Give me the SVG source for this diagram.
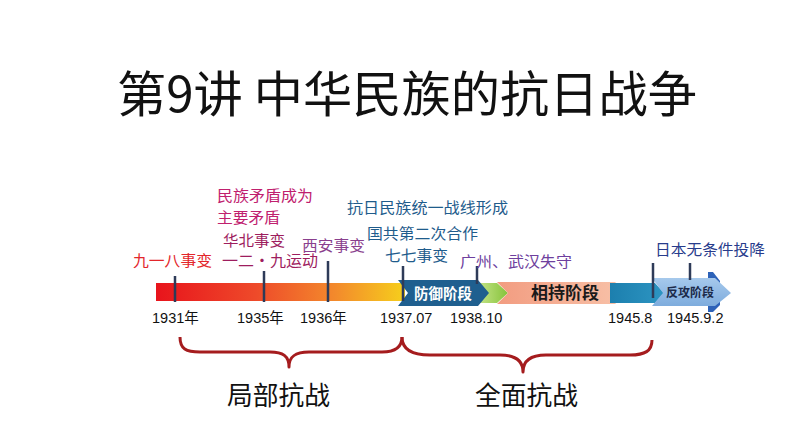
<svg xmlns="http://www.w3.org/2000/svg" width="794" height="447" viewBox="0 0 794 447">
<defs>
<style>
.cjk{font-family:"Noto Sans CJK SC","Noto Sans",sans-serif}
.ev{font-family:"Noto Sans CJK SC","Noto Sans",sans-serif;font-size:15px}
.yr{font-family:"Liberation Sans","Noto Sans CJK SC",sans-serif;font-size:14.5px;fill:#111}
.tick{stroke:#2E3B58;stroke-width:2.5}
.brace{fill:none;stroke:#A51C1E;stroke-width:3;stroke-linejoin:round}
.stage{font-family:"Noto Sans CJK SC","Noto Sans",sans-serif;font-weight:bold;text-anchor:middle}
</style>
<linearGradient id="gBar" x1="0" x2="1" y1="0" y2="0">
<stop offset="0" stop-color="#E8141C"/>
<stop offset="0.4" stop-color="#EE4A2A"/>
<stop offset="0.72" stop-color="#F38A2C"/>
<stop offset="1" stop-color="#F6CF1C"/>
</linearGradient>
<linearGradient id="gGreen" x1="0" x2="1" y1="0" y2="0">
<stop offset="0" stop-color="#D6ED9E"/>
<stop offset="1" stop-color="#86C33A"/>
</linearGradient>
<linearGradient id="gSalmon" x1="0" x2="1" y1="0" y2="0">
<stop offset="0" stop-color="#F29C80"/>
<stop offset="1" stop-color="#F8C3AA"/>
</linearGradient>
<linearGradient id="gLight" x1="0" x2="0" y1="0" y2="1">
<stop offset="0" stop-color="#A6C9EC"/>
<stop offset="1" stop-color="#7EACDD"/>
</linearGradient>
<linearGradient id="gTeal" x1="0" x2="1" y1="0" y2="0">
<stop offset="0" stop-color="#1C7FAE"/>
<stop offset="1" stop-color="#2D95C2"/>
</linearGradient>
</defs>
<rect width="794" height="447" fill="#ffffff"/>

<g id="title">
<text class="cjk" x="117" y="112" font-size="49" fill="#111" textLength="580" lengthAdjust="spacingAndGlyphs">第9讲 中华民族的抗日战争</text>
</g>

<g id="timeline-bar">
<rect x="156" y="283" width="249" height="18" fill="url(#gBar)"/>
</g>

<g id="stage-xiangchi">
<polygon points="470,283 497,283 508,293 497,303 470,303" fill="url(#gGreen)"/>
<polygon points="497,282 615,282 628,293 615,304 497,304 508,293" fill="url(#gSalmon)"/>
<text class="stage" x="565" y="299" font-size="17" fill="#1A1A1A">相持阶段</text>
</g>

<g id="stage-teal">
<polygon points="610,283 655,283 664,293 655,303 610,303" fill="url(#gTeal)"/>
</g>

<g id="stage-fangong">
<polygon points="708,272 713,272 720,281 720,305 713,312 708,312" fill="#2D62B8"/>
<polygon points="652,278 715,278 731,293 715,306 652,306 663,293" fill="url(#gLight)"/>
<text class="stage" x="690" y="297" font-size="12" fill="#1B2A4A">反攻阶段</text>
</g>

<g id="stage-fangyu">
<polygon points="398,280 478,280 489,293 478,306 398,306 408,293" fill="#1F5F8F"/>
<text class="stage" x="443" y="299" font-size="14.5" fill="#ffffff">防御阶段</text>
</g>

<g id="connectors">
<line class="tick" x1="175" y1="276" x2="175" y2="302"/>
<line class="tick" x1="264" y1="271" x2="264" y2="302"/>
<line class="tick" x1="328" y1="261" x2="328" y2="302"/>
<line class="tick" x1="403" y1="266" x2="403" y2="301"/>
<line class="tick" x1="477" y1="266" x2="477" y2="284"/>
<line class="tick" x1="653" y1="263" x2="653" y2="298"/>
<line class="tick" x1="690" y1="263" x2="690" y2="280"/>
<path class="brace" d="M180,337 C180,349 186,352 200,352 L270,352 C283,352 289,356 289,367 C289,356 296,352 309,352 L382,352 C396,352 402,347 402,337"/>
<path class="brace" d="M402,337 C402,350 412,355 430,355 L500,355 C515,355 523,360 523,372 C523,360 531,355 546,355 L630,355 C645,355 652,351 652,340"/>
</g>

<g id="year-labels">
<text class="yr" x="152" y="323">1931年</text>
<text class="yr" x="237" y="323">1935年</text>
<text class="yr" x="300" y="323">1936年</text>
<text class="yr" x="380" y="323">1937.07</text>
<text class="yr" x="450" y="323">1938.10</text>
<text class="yr" x="608" y="323">1945.8</text>
<text class="yr" x="667" y="323">1945.9.2</text>
</g>

<g id="event-labels">
<text class="ev" x="217" y="201" fill="#C0206E" textLength="96" lengthAdjust="spacingAndGlyphs">民族矛盾成为</text>
<text class="ev" x="217" y="223" fill="#C0206E" textLength="63" lengthAdjust="spacingAndGlyphs">主要矛盾</text>
<text class="ev" x="223" y="246" fill="#9E1D5E" textLength="62" lengthAdjust="spacingAndGlyphs">华北事变</text>
<text class="ev" x="133" y="266" fill="#E3262B" textLength="79" lengthAdjust="spacingAndGlyphs">九一八事变</text>
<text class="ev" x="222" y="266" fill="#9E1D5E" textLength="96" lengthAdjust="spacingAndGlyphs">一二·九运动</text>
<text class="ev" x="302" y="251" fill="#8A3F8E" textLength="63" lengthAdjust="spacingAndGlyphs">西安事变</text>
<text class="ev" x="347" y="213" fill="#1F5C8C" textLength="161" lengthAdjust="spacingAndGlyphs">抗日民族统一战线形成</text>
<text class="ev" x="367" y="239" fill="#1F5C8C" textLength="111" lengthAdjust="spacingAndGlyphs">国共第二次合作</text>
<text class="ev" x="385" y="261" fill="#1F5C8C" textLength="63" lengthAdjust="spacingAndGlyphs">七七事变</text>
<text class="ev" x="460" y="267" fill="#6E3F9E" textLength="112" lengthAdjust="spacingAndGlyphs">广州、武汉失守</text>
<text class="ev" x="655" y="255" fill="#283C8C" textLength="110" lengthAdjust="spacingAndGlyphs">日本无条件投降</text>
</g>

<g id="period-labels">
<text class="cjk" x="227" y="405" font-size="26" fill="#111" textLength="103" lengthAdjust="spacingAndGlyphs">局部抗战</text>
<text class="cjk" x="475" y="405" font-size="26" fill="#111" textLength="103" lengthAdjust="spacingAndGlyphs">全面抗战</text>
</g>
</svg>
